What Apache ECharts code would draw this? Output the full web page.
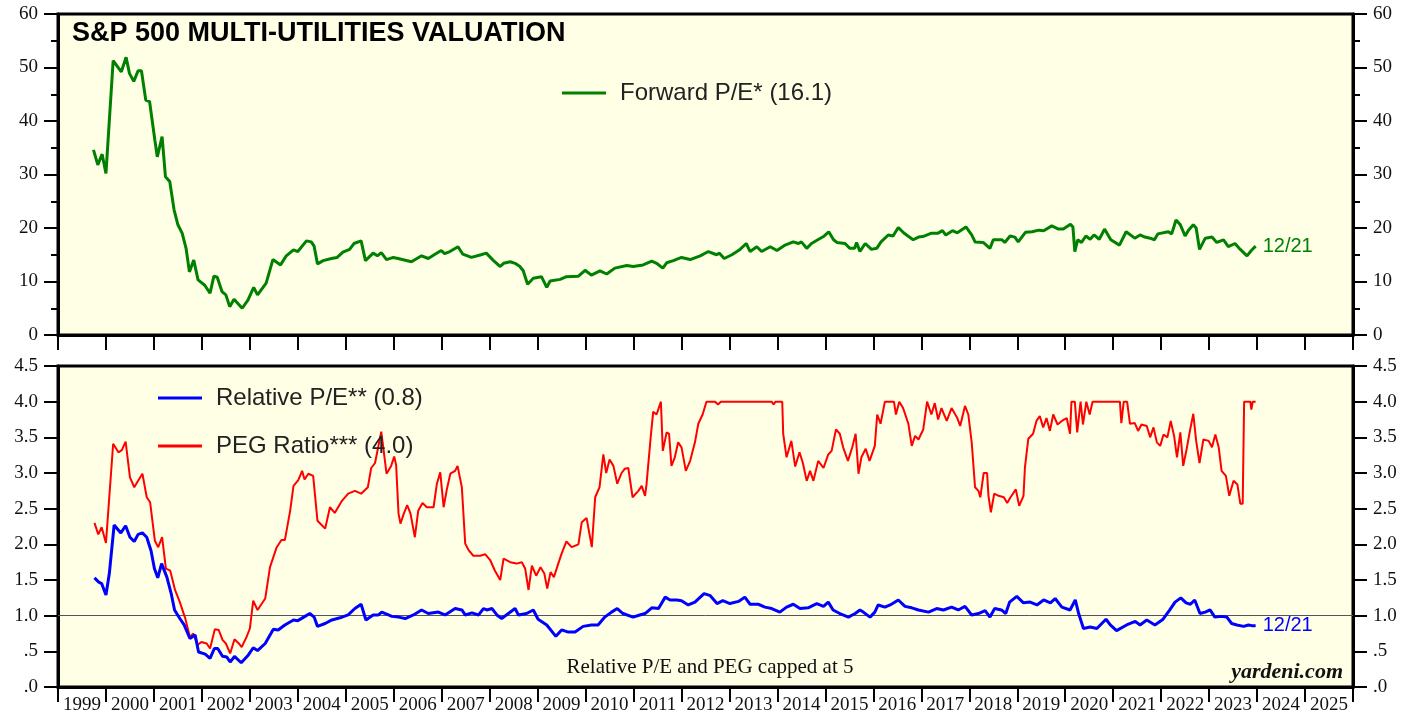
<!DOCTYPE html>
<html>
<head>
<meta charset="utf-8">
<script src="https://cdn.jsdelivr.net/npm/echarts@6/dist/echarts.min.js"></script>
<style>
html,body{margin:0;padding:0;background:#fff;}
#chart{width:1419px;height:715px;}
</style>
</head>
<body>
<div id="chart"></div>
<script>
// ---------- DATA ----------
const years = ['1999','2000','2001','2002','2003','2004','2005','2006','2007','2008','2009','2010','2011','2012','2013','2014','2015','2016','2017','2018','2019','2020','2021','2022','2023','2024','2025'];

const peDates = [1999.74,1999.83,1999.92,2000.00,2000.15,2000.32,2000.42,2000.49,2000.58,2000.67,2000.74,2000.83,2000.91,2001.02,2001.07,2001.17,2001.24,2001.33,2001.42,2001.50,2001.59,2001.67,2001.74,2001.83,2001.92,2002.06,2002.17,2002.25,2002.32,2002.42,2002.50,2002.58,2002.67,2002.84,2002.96,2003.08,2003.16,2003.34,2003.48,2003.64,2003.76,2003.91,2004.00,2004.18,2004.28,2004.34,2004.41,2004.53,2004.70,2004.82,2004.94,2005.08,2005.17,2005.32,2005.41,2005.57,2005.66,2005.74,2005.85,2005.99,2006.09,2006.37,2006.58,2006.72,2006.86,2006.99,2007.06,2007.17,2007.34,2007.44,2007.62,2007.82,2007.93,2008.07,2008.22,2008.29,2008.43,2008.53,2008.63,2008.70,2008.79,2008.91,2009.08,2009.19,2009.26,2009.47,2009.60,2009.85,2009.99,2010.12,2010.30,2010.44,2010.61,2010.86,2010.99,2011.20,2011.38,2011.48,2011.61,2011.69,2011.83,2012.00,2012.18,2012.39,2012.56,2012.73,2012.79,2012.89,2013.05,2013.22,2013.35,2013.43,2013.57,2013.67,2013.85,2013.99,2014.16,2014.33,2014.44,2014.50,2014.61,2014.71,2014.86,2014.96,2015.07,2015.17,2015.24,2015.41,2015.51,2015.61,2015.65,2015.72,2015.83,2015.96,2016.07,2016.16,2016.31,2016.41,2016.52,2016.63,2016.72,2016.83,2016.94,2017.03,2017.20,2017.34,2017.44,2017.51,2017.65,2017.75,2017.93,2018.05,2018.12,2018.29,2018.43,2018.50,2018.68,2018.74,2018.85,2018.95,2019.02,2019.17,2019.31,2019.45,2019.55,2019.72,2019.86,2019.96,2020.11,2020.16,2020.20,2020.26,2020.34,2020.43,2020.52,2020.60,2020.71,2020.82,2020.95,2021.13,2021.27,2021.45,2021.56,2021.66,2021.77,2021.86,2021.93,2022.15,2022.22,2022.31,2022.40,2022.50,2022.57,2022.67,2022.73,2022.80,2022.92,2023.06,2023.16,2023.30,2023.40,2023.54,2023.65,2023.79,2023.88,2023.97];
const peValues = [34.6,31.8,33.8,30.2,51.3,49.2,51.9,48.9,47.4,49.4,49.4,43.9,43.6,36.4,33.3,37.1,29.6,28.7,23.4,20.6,19.0,16.2,11.8,14.0,10.3,9.3,7.8,11.0,10.8,8.1,7.5,5.3,6.7,5.0,6.5,8.9,7.5,9.7,14.1,13.1,14.8,15.9,15.6,17.6,17.4,16.6,13.3,13.9,14.3,14.5,15.5,16.0,17.1,17.6,13.9,15.3,14.8,15.4,14.1,14.5,14.3,13.7,14.8,14.3,15.1,15.8,15.2,15.6,16.5,15.1,14.5,15.0,15.3,14.0,12.8,13.4,13.7,13.4,12.8,12.0,9.5,10.6,10.9,8.9,10.1,10.4,10.9,11.0,12.1,11.2,12.0,11.4,12.5,13.0,12.8,13.1,13.8,13.4,12.5,13.5,13.9,14.5,14.1,14.8,15.6,15.0,15.3,14.3,15.0,16.0,17.1,15.6,16.5,15.6,16.5,15.8,16.8,17.4,17.1,17.4,16.2,17.1,17.9,18.4,19.3,17.8,17.3,17.1,16.2,16.2,17.3,15.6,17.1,16.0,16.2,17.4,18.7,18.5,20.1,19.1,18.5,17.8,18.3,18.4,19.0,19.0,19.5,18.7,19.5,19.1,20.2,18.7,17.4,17.3,16.2,17.8,17.8,17.3,18.5,18.3,17.4,19.2,19.3,19.6,19.5,20.4,19.8,19.8,20.7,20.2,15.6,17.8,17.3,18.5,17.9,18.7,17.9,19.8,17.8,16.8,19.3,18.1,18.7,18.3,18.1,17.8,18.9,19.3,18.9,21.5,20.6,18.5,19.6,20.6,20.0,16.0,18.1,18.3,17.3,17.8,16.5,17.1,16.0,14.8,15.8,16.6];

const relDates = [1999.76,1999.85,1999.91,2000.00,2000.07,2000.17,2000.31,2000.41,2000.50,2000.59,2000.67,2000.76,2000.85,2000.94,2001.01,2001.08,2001.16,2001.27,2001.36,2001.43,2001.54,2001.63,2001.75,2001.86,2001.93,2002.07,2002.17,2002.26,2002.33,2002.43,2002.52,2002.59,2002.68,2002.82,2002.97,2003.07,2003.16,2003.32,2003.49,2003.59,2003.73,2003.91,2004.00,2004.15,2004.25,2004.34,2004.41,2004.57,2004.71,2004.88,2005.05,2005.19,2005.32,2005.42,2005.57,2005.68,2005.75,2005.89,2005.96,2006.10,2006.24,2006.41,2006.58,2006.72,2006.93,2007.07,2007.28,2007.42,2007.49,2007.63,2007.77,2007.87,2007.94,2008.05,2008.15,2008.25,2008.39,2008.53,2008.60,2008.77,2008.91,2009.01,2009.19,2009.38,2009.50,2009.64,2009.78,2009.95,2010.12,2010.26,2010.40,2010.54,2010.66,2010.78,2010.99,2011.13,2011.24,2011.38,2011.52,2011.66,2011.76,2011.90,2012.00,2012.14,2012.28,2012.47,2012.60,2012.74,2012.86,2013.01,2013.19,2013.32,2013.43,2013.60,2013.74,2013.88,2014.05,2014.19,2014.33,2014.47,2014.64,2014.82,2014.96,2015.06,2015.16,2015.30,2015.48,2015.62,2015.72,2015.79,2015.93,2016.03,2016.10,2016.24,2016.35,2016.52,2016.66,2016.80,2016.94,2017.15,2017.32,2017.46,2017.63,2017.77,2017.91,2018.05,2018.19,2018.33,2018.43,2018.53,2018.67,2018.76,2018.84,2018.99,2019.13,2019.27,2019.41,2019.55,2019.69,2019.79,2019.93,2020.10,2020.21,2020.28,2020.38,2020.52,2020.66,2020.85,2020.94,2021.07,2021.28,2021.46,2021.56,2021.70,2021.87,2022.04,2022.18,2022.29,2022.41,2022.52,2022.61,2022.70,2022.81,2022.92,2023.02,2023.12,2023.26,2023.37,2023.47,2023.58,2023.72,2023.82,2023.89,2023.97];
const relValues = [1.53,1.47,1.45,1.29,1.59,2.27,2.16,2.26,2.10,2.04,2.14,2.16,2.10,1.91,1.66,1.53,1.73,1.54,1.31,1.08,0.96,0.87,0.68,0.73,0.49,0.46,0.40,0.54,0.54,0.43,0.42,0.35,0.43,0.34,0.45,0.55,0.51,0.61,0.81,0.80,0.87,0.94,0.93,0.99,1.03,0.98,0.85,0.89,0.94,0.97,1.01,1.10,1.16,0.94,1.01,1.01,1.05,1.01,0.99,0.98,0.96,1.01,1.08,1.03,1.05,1.01,1.10,1.08,1.01,1.04,1.01,1.10,1.08,1.10,1.01,0.96,1.03,1.10,1.01,1.03,1.08,0.95,0.87,0.71,0.80,0.77,0.77,0.85,0.87,0.87,0.98,1.05,1.10,1.03,0.98,1.01,1.03,1.11,1.10,1.26,1.22,1.22,1.21,1.15,1.19,1.31,1.28,1.17,1.21,1.17,1.20,1.26,1.16,1.16,1.12,1.10,1.05,1.12,1.16,1.10,1.11,1.17,1.13,1.19,1.08,1.03,0.98,1.03,1.08,1.05,0.98,1.05,1.15,1.12,1.15,1.22,1.13,1.11,1.08,1.05,1.10,1.08,1.12,1.08,1.13,1.01,1.03,1.07,0.98,1.10,1.08,1.03,1.19,1.27,1.18,1.19,1.15,1.22,1.18,1.24,1.12,1.08,1.22,1.03,0.82,0.84,0.82,0.95,0.87,0.79,0.87,0.92,0.87,0.94,0.87,0.95,1.08,1.19,1.25,1.18,1.16,1.22,1.03,1.05,1.08,0.98,0.99,0.98,0.89,0.87,0.85,0.87,0.86,0.86];

const pegDates = [1999.76,1999.84,1999.91,2000.00,2000.15,2000.26,2000.33,2000.41,2000.50,2000.59,2000.67,2000.76,2000.85,2000.92,2001.02,2001.09,2001.17,2001.25,2001.34,2001.44,2001.54,2001.65,2001.75,2001.82,2001.91,2001.99,2002.10,2002.17,2002.27,2002.35,2002.43,2002.50,2002.59,2002.68,2002.77,2002.83,2002.93,2003.00,2003.07,2003.16,2003.32,2003.42,2003.56,2003.66,2003.73,2003.84,2003.91,2004.01,2004.09,2004.14,2004.22,2004.32,2004.41,2004.57,2004.67,2004.77,2004.92,2005.05,2005.19,2005.32,2005.46,2005.53,2005.61,2005.74,2005.85,2005.94,2006.01,2006.05,2006.10,2006.14,2006.21,2006.28,2006.35,2006.44,2006.51,2006.60,2006.69,2006.83,2006.90,2006.97,2007.04,2007.11,2007.18,2007.28,2007.33,2007.42,2007.49,2007.56,2007.66,2007.80,2007.91,2008.01,2008.11,2008.22,2008.29,2008.43,2008.56,2008.67,2008.74,2008.81,2008.88,2008.97,2009.06,2009.14,2009.20,2009.27,2009.34,2009.43,2009.50,2009.60,2009.71,2009.85,2009.92,2010.02,2010.13,2010.20,2010.29,2010.37,2010.43,2010.50,2010.58,2010.66,2010.75,2010.82,2010.89,2010.98,2011.10,2011.17,2011.24,2011.27,2011.36,2011.41,2011.48,2011.57,2011.61,2011.69,2011.74,2011.79,2011.86,2011.93,2012.00,2012.09,2012.18,2012.28,2012.35,2012.44,2012.52,2012.70,2012.76,2012.82,2013.88,2013.92,2013.96,2014.10,2014.12,2014.19,2014.29,2014.37,2014.46,2014.53,2014.61,2014.68,2014.75,2014.85,2014.96,2015.06,2015.13,2015.22,2015.30,2015.37,2015.47,2015.56,2015.63,2015.69,2015.75,2015.84,2015.92,2016.03,2016.08,2016.15,2016.24,2016.43,2016.47,2016.54,2016.62,2016.73,2016.80,2016.87,2016.94,2017.04,2017.12,2017.21,2017.28,2017.35,2017.42,2017.53,2017.63,2017.75,2017.81,2017.91,2017.98,2018.05,2018.12,2018.19,2018.23,2018.30,2018.37,2018.40,2018.45,2018.52,2018.61,2018.72,2018.79,2018.86,2018.97,2019.04,2019.13,2019.16,2019.23,2019.33,2019.40,2019.47,2019.54,2019.61,2019.68,2019.75,2019.84,2019.93,2020.03,2020.10,2020.13,2020.20,2020.25,2020.32,2020.37,2020.44,2020.51,2020.57,2021.14,2021.17,2021.22,2021.29,2021.35,2021.45,2021.52,2021.59,2021.70,2021.77,2021.84,2021.91,2021.98,2022.05,2022.13,2022.20,2022.27,2022.33,2022.40,2022.46,2022.53,2022.60,2022.67,2022.73,2022.80,2022.88,2022.99,2023.06,2023.13,2023.20,2023.26,2023.35,2023.42,2023.51,2023.59,2023.65,2023.70,2023.73,2023.86,2023.88,2023.91,2023.97];
const pegValues = [2.30,2.14,2.24,2.02,3.41,3.29,3.32,3.44,2.94,2.80,2.89,2.99,2.66,2.59,2.05,1.96,2.10,1.66,1.63,1.36,1.19,0.97,0.70,0.75,0.59,0.63,0.61,0.54,0.81,0.80,0.66,0.61,0.47,0.67,0.61,0.56,0.70,0.82,1.21,1.08,1.24,1.68,1.96,2.06,2.06,2.47,2.82,2.90,3.03,2.91,2.99,2.96,2.33,2.22,2.52,2.44,2.61,2.71,2.75,2.71,2.80,3.07,3.14,3.58,2.99,3.09,3.23,3.11,2.43,2.29,2.43,2.55,2.43,2.10,2.47,2.58,2.52,2.52,2.85,3.01,2.52,2.78,2.99,3.03,3.10,2.80,2.01,1.92,1.84,1.84,1.86,1.78,1.63,1.50,1.80,1.75,1.73,1.75,1.66,1.36,1.70,1.56,1.68,1.59,1.38,1.61,1.54,1.73,1.87,2.04,1.96,2.00,2.31,2.37,1.96,2.66,2.80,3.26,3.00,3.19,3.10,2.85,3.00,3.06,3.07,2.66,2.75,2.82,2.68,2.84,3.52,3.86,3.82,4.00,3.31,3.57,3.55,3.10,3.22,3.43,3.36,3.03,3.17,3.43,3.69,3.82,4.00,4.00,3.96,4.00,4.00,3.96,4.00,4.00,3.55,3.22,3.45,3.09,3.29,3.14,2.89,3.03,2.89,3.17,3.07,3.26,3.31,3.61,3.55,3.36,3.17,3.36,3.55,2.99,3.22,3.34,3.17,3.38,3.82,3.69,4.00,4.00,3.82,4.00,3.91,3.69,3.38,3.52,3.47,3.61,4.00,3.82,3.98,3.75,3.91,3.73,3.91,3.77,3.66,3.94,3.82,3.43,2.80,2.75,2.66,3.00,3.00,2.68,2.45,2.71,2.68,2.66,2.58,2.66,2.77,2.54,2.68,3.08,3.48,3.55,3.73,3.80,3.64,3.77,3.59,3.82,3.68,3.73,3.77,3.55,4.00,4.00,3.57,4.00,3.68,4.00,3.82,4.00,4.00,3.70,4.00,4.00,3.69,3.70,3.59,3.68,3.66,3.50,3.64,3.43,3.38,3.54,3.50,3.73,3.52,3.22,3.57,3.10,3.33,3.59,3.83,3.45,3.14,3.47,3.45,3.36,3.54,3.36,3.03,2.96,2.68,2.89,2.84,2.57,2.57,4.00,4.00,3.89,4.00,4.00];

const topTicks = [0,10,20,30,40,50,60];
const bottomTicks = [0,0.5,1,1.5,2,2.5,3,3.5,4,4.5];

// ---------- CHART ----------
const zip = (a, b) => a.map((d, i) => [d, b[i]]);
const serif = '"Liberation Serif", "Times New Roman", serif';
const sans = '"Liberation Sans", Arial, sans-serif';
const chart = echarts.init(document.getElementById('chart'), null, {renderer: 'canvas'});

const gridBox = {show: true, left: 58, width: 1295, height: 321, backgroundColor: '#FFFFE6', borderColor: '#000', borderWidth: 3};

function yAxisCfg(gridIndex, pos, min, max, interval, minor, fmt) {
  return {
    type: 'value', gridIndex, position: pos, min, max, interval,
    axisLine: {show: true, lineStyle: {color: '#000', width: 3}},
    axisTick: {show: true, length: 14, lineStyle: {color: '#000', width: 2}},
    minorTick: {show: minor, splitNumber: 2, length: 7, lineStyle: {color: '#000', width: 2}},
    splitLine: {show: false},
    axisLabel: {show: true, margin: 20, color: '#111', fontFamily: serif, fontSize: 19, formatter: fmt}
  };
}
const decFmt = v => {
  const s = v.toFixed(1);
  return v < 1 ? s.slice(1) : s;
};

function catAxis(gridIndex, showLabels) {
  return {
    type: 'category', gridIndex, data: years, boundaryGap: true, position: 'bottom',
    axisLine: {show: true, lineStyle: {color: '#000', width: 3}},
    axisTick: {show: true, interval: 0, length: 15, lineStyle: {color: '#000', width: 2}},
    axisLabel: {show: showLabels, interval: 0, margin: 9, color: '#111', fontFamily: serif, fontSize: 19},
    splitLine: {show: false}
  };
}

const legendText = {fontSize: 24, fontFamily: sans, color: '#222', padding: [0, 0, 0, 9]};

const option = {
  animation: false,
  backgroundColor: '#fff',
  grid: [
    Object.assign({top: 14}, gridBox),
    Object.assign({top: 366}, gridBox)
  ],
  xAxis: [
    {type: 'value', gridIndex: 0, min: 1999, max: 2026, show: false},
    catAxis(0, false),
    {type: 'value', gridIndex: 1, min: 1999, max: 2026, show: false},
    catAxis(1, true)
  ],
  yAxis: [
    yAxisCfg(0, 'left', topTicks[0], topTicks[topTicks.length-1], 10, true),
    yAxisCfg(0, 'right', topTicks[0], topTicks[topTicks.length-1], 10, true),
    yAxisCfg(1, 'left', bottomTicks[0], bottomTicks[bottomTicks.length-1], 0.5, false, decFmt),
    yAxisCfg(1, 'right', bottomTicks[0], bottomTicks[bottomTicks.length-1], 0.5, false, decFmt)
  ],
  legend: [
    {
      data: ['Forward P/E* (16.1)'], left: 557, top: 76, icon: 'rect', itemWidth: 44, itemHeight: 3,
      textStyle: legendText
    },
    {
      data: ['Relative P/E** (0.8)', 'PEG Ratio*** (4.0)'], orient: 'vertical', left: 153, top: 381,
      icon: 'rect', itemWidth: 44, itemHeight: 3, itemGap: 24,
      textStyle: legendText
    }
  ],
  series: [
    {
      name: 'Forward P/E* (16.1)', type: 'line', xAxisIndex: 0, yAxisIndex: 0,
      data: zip(peDates, peValues), showSymbol: false, color: '#008000',
      lineStyle: {width: 3, color: '#008000'},
      endLabel: {show: true, formatter: '12/21', color: '#008000', fontSize: 20, fontFamily: sans, distance: 7}
    },
    {
      name: 'PEG Ratio*** (4.0)', type: 'line', xAxisIndex: 2, yAxisIndex: 2,
      data: zip(pegDates, pegValues), showSymbol: false, color: '#FF0000',
      lineStyle: {width: 2, color: '#FF0000'}
    },
    {
      name: 'Relative P/E** (0.8)', type: 'line', xAxisIndex: 2, yAxisIndex: 2,
      data: zip(relDates, relValues), showSymbol: false, color: '#0000FF',
      lineStyle: {width: 3, color: '#0000FF'},
      endLabel: {show: true, formatter: '12/21', color: '#0000FF', fontSize: 20, fontFamily: sans, distance: 7},
      markLine: {
        silent: true, symbol: 'none', z: 1,
        lineStyle: {color: '#555', width: 1, type: 'solid'},
        label: {show: false},
        data: [{yAxis: 1}]
      }
    }
  ],
  graphic: [
    {type: 'text', left: 72, top: 20, style: {text: 'S&P 500 MULTI-UTILITIES VALUATION', font: 'bold 27px ' + sans, fill: '#000'}},
    {type: 'text', x: 710, y: 667, style: {text: 'Relative P/E and PEG capped at 5', font: '21px ' + serif, fill: '#111', align: 'center', verticalAlign: 'middle'}},
    {type: 'text', x: 1343, y: 672, style: {text: 'yardeni.com', font: 'italic bold 22px ' + serif, fill: '#111', align: 'right', verticalAlign: 'middle'}}
  ]
};
chart.setOption(option);
</script>
</body>
</html>
